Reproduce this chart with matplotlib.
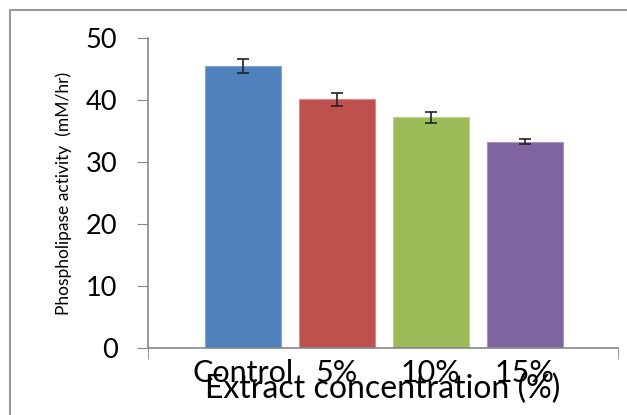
import matplotlib
matplotlib.use("Agg")
from matplotlib import pyplot as plt
from matplotlib.patches import Rectangle

# data
categories = ["Control", "5%", "10%", "15%"]
activity = [45.5, 40.1, 37.2, 33.3]
errors = [1.15, 1.0, 0.85, 0.35]
colors = ["#4F81BD", "#C0504D", "#9BBB59", "#8064A2"]
edges = ["#7FA3D3", "#D98A88", "#BBD28E", "#A593C0"]

plt.rcParams['font.family'] = ['Lato', 'DejaVu Sans']

fig = plt.figure(figsize=(6.27, 4.15), dpi=100)
ax = fig.add_axes([0.236, 0.1614, 0.7496, 0.747])

pos = list(range(len(categories)))
ax.bar(pos, activity, width=0.8, color=colors, edgecolor=edges, linewidth=0.8,
       yerr=errors, error_kw=dict(ecolor="#222222", elinewidth=1.2,
                                  capsize=4, capthick=1.2))

ax.set_ylim(0, 50)
ax.set_xlim(-1.01, 3.99)
ax.set_yticks([0, 10, 20, 30, 40, 50])
ax.set_xticks(pos)
ax.set_xticklabels(categories, fontsize=22)
ax.set_xticks([-1.01, 3.99], minor=True)
ax.tick_params(axis='y', labelsize=19.5, length=8, color="#868686", pad=14)
ax.tick_params(axis='x', which='major', length=0, pad=8)
ax.tick_params(axis='x', which='minor', length=8, color="#868686")

for s in ["top", "right"]:
    ax.spines[s].set_color("none")
for s in ["left", "bottom"]:
    ax.spines[s].set_color("#868686")
    ax.spines[s].set_linewidth(1.2)

ax.set_ylabel("Phospholipase activity  (mM/hr)", fontsize=12.5, labelpad=10)
ax.set_xlabel("Extract concentration (%)", fontsize=23, labelpad=-10)

fig.patches.append(Rectangle((0.016, -0.1), 1.2, 1.076, transform=fig.transFigure,
                             fill=False, edgecolor="#999999", linewidth=1.5))

plt.savefig("out.png", dpi=100)
plt.close()
